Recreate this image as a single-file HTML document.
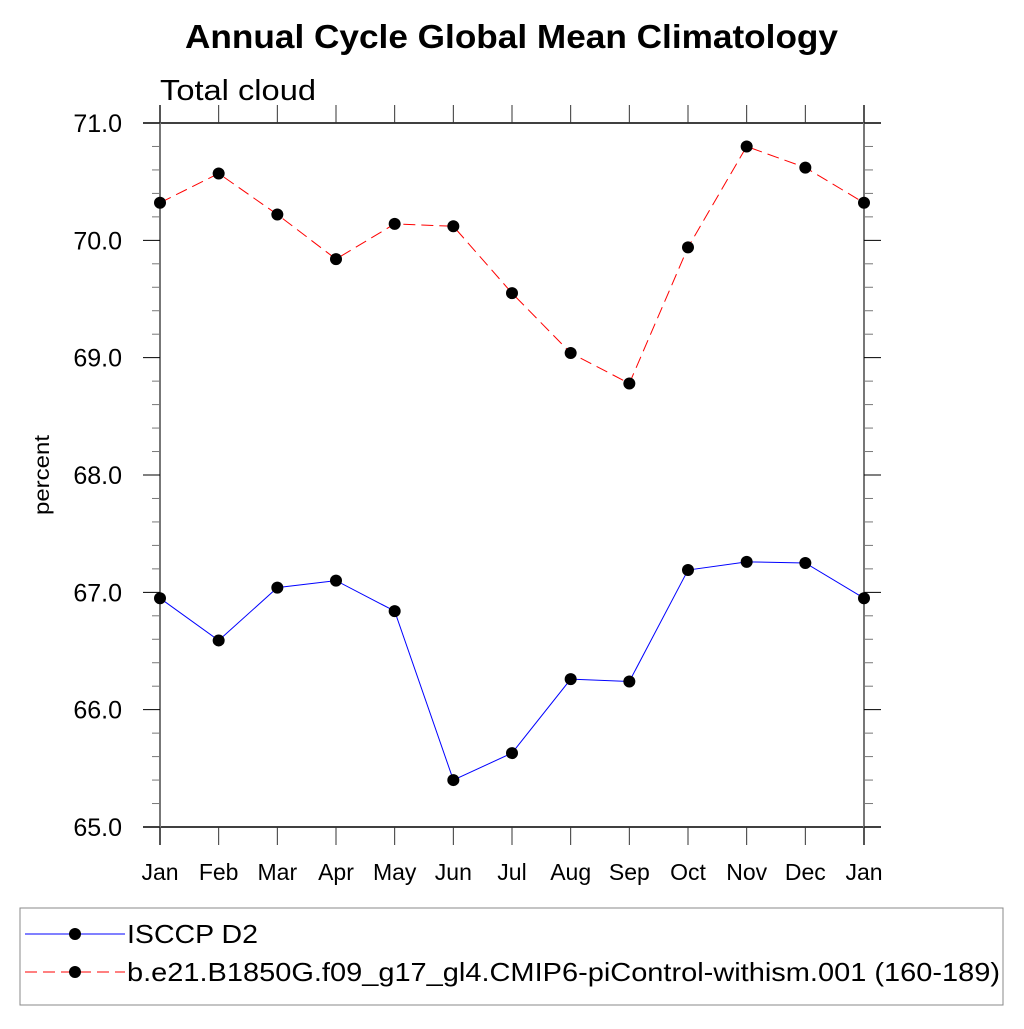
<!DOCTYPE html>
<html><head><meta charset="utf-8"><style>
body{margin:0;background:#fff}
svg text{font-family:"Liberation Sans",Arial,sans-serif;fill:#000}
</style></head><body>
<svg id="chart" width="1024" height="1024" xmlns="http://www.w3.org/2000/svg">
<text x="185" y="48" font-size="33" font-weight="bold" textLength="653" lengthAdjust="spacingAndGlyphs">Annual Cycle Global Mean Climatology</text>
<text x="160" y="100" font-size="29" textLength="156" lengthAdjust="spacingAndGlyphs">Total cloud</text>
<text transform="translate(49,475) rotate(-90)" text-anchor="middle" font-size="21" textLength="80" lengthAdjust="spacingAndGlyphs">percent</text>
<g id="axes"></g>
<g id="series"></g>
<rect x="20" y="908" width="983" height="97" fill="none" stroke="#888" stroke-width="1"/>
<g>
<line x1="25" y1="934" x2="125" y2="934" stroke="#00f" stroke-width="1"/>
<circle cx="75" cy="934" r="6" fill="#000"/>
<text x="127" y="943" font-size="26" textLength="131" lengthAdjust="spacingAndGlyphs">ISCCP D2</text></g>
<g>
<line x1="25" y1="972" x2="125" y2="972" stroke="#f00" stroke-width="1" stroke-dasharray="12,6"/>
<circle cx="75" cy="972" r="6" fill="#000"/>
<text x="127" y="981" font-size="26" textLength="873" lengthAdjust="spacingAndGlyphs">b.e21.B1850G.f09_g17_gl4.CMIP6-piControl-withism.001 (160-189)</text></g>
</svg>
<script>
const months=["Jan","Feb","Mar","Apr","May","Jun","Jul","Aug","Sep","Oct","Nov","Dec","Jan"];
const isccp=[66.95,66.59,67.04,67.10,66.84,65.40,65.63,66.26,66.24,67.19,67.26,67.25,66.95];
const model=[70.32,70.57,70.22,69.84,70.14,70.12,69.55,69.04,68.78,69.94,70.80,70.62,70.32];
const yTicks=[65,66,67,68,69,70,71];
const NS="http://www.w3.org/2000/svg";
const L=160,R=864,T=123,B=827,ymin=65,ymax=71;
const xs=i=>L+(R-L)*i/(months.length-1);
const ys=v=>B-(v-ymin)/(ymax-ymin)*(B-T);
function mk(t,a,p){const e=document.createElementNS(NS,t);for(const k in a)e.setAttribute(k,a[k]);p.appendChild(e);return e;}
const ax=document.getElementById('axes');
mk('line',{x1:143,y1:T,x2:881,y2:T,stroke:'#000','stroke-width':1.5},ax);
mk('line',{x1:143,y1:B,x2:881,y2:B,stroke:'#000','stroke-width':1.5},ax);
mk('line',{x1:L,y1:105,x2:L,y2:845,stroke:'#777','stroke-width':2},ax);
mk('line',{x1:R,y1:105,x2:R,y2:845,stroke:'#777','stroke-width':2},ax);
months.forEach((m,i)=>{const x=xs(i);
mk('line',{x1:x,y1:B,x2:x,y2:845,stroke:'#333'},ax);
mk('line',{x1:x,y1:T,x2:x,y2:105,stroke:'#333'},ax);
const t=mk('text',{x:x,y:880,'text-anchor':'middle','font-size':23},ax);t.textContent=m;

});
for(let v=ymin;v<=ymax+1e-9;v+=0.2){const y=ys(v);const maj=Math.abs(v-Math.round(v))<1e-6;
mk('line',{x1:maj?143:152,y1:y,x2:L,y2:y,stroke:maj?'#000':'#777'},ax);
mk('line',{x1:R,y1:y,x2:maj?881:873,y2:y,stroke:maj?'#000':'#777'},ax);}
yTicks.forEach(v=>{const t=mk('text',{x:122,y:ys(v)+9,'text-anchor':'end','font-size':25},ax);t.textContent=v.toFixed(1);

});
const sg=document.getElementById('series');
function draw(d,col,dash,name){
const pl=mk('polyline',{points:d.map((v,i)=>xs(i)+','+ys(v)).join(' '),fill:'none',stroke:col,'stroke-width':1,'stroke-dasharray':dash},sg);


d.forEach((v,i)=>{const c=mk('circle',{cx:xs(i),cy:ys(v),r:6,fill:'#000'},sg);

});}
draw(model,'#f00','12,6','model');
draw(isccp,'#00f','none','isccp');
</script>
</body></html>
